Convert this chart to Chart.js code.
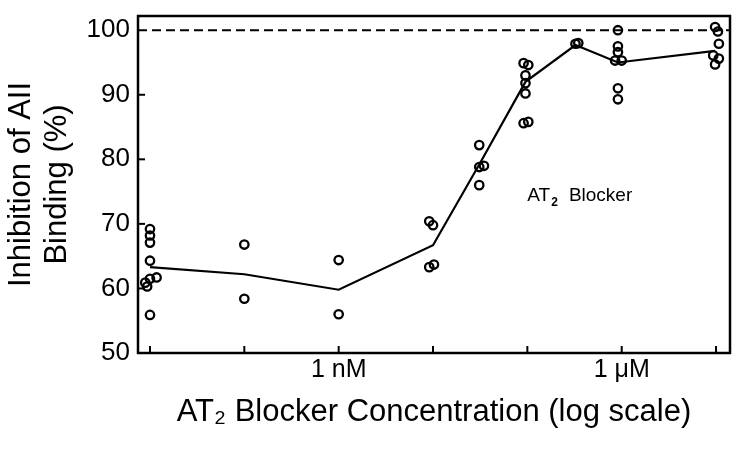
<!DOCTYPE html>
<html>
<head>
<meta charset="utf-8">
<title>AT2 Blocker inhibition</title>
<script src="https://cdn.jsdelivr.net/npm/chart.js@4.4.1/dist/chart.umd.min.js"></script>
<style>
  html, body { margin: 0; padding: 0; background: #fff; }
  #wrap { width: 750px; height: 466px; }
</style>
</head>
<body>
<div id="wrap"><canvas id="bindingChart" width="750" height="466"></canvas></div>
<script>
// x values are log10 of molar concentration
const xTickValues = [-11, -10, -9, -8, -7, -6, -5];
const xTickLabels = ["", "", "1 nM", "", "", "1 \u03bcM", ""];
const yTickValues = [50, 60, 70, 80, 90, 100];

// individual measurements
const pointLogConc = [
  -11.0, -11.0, -11.0, -11.0, -11.0, -10.93, -11.05, -11.03, -11.0,
  -10.0, -10.0,
  -9.0, -9.0,
  -8.04, -8.0, -8.04, -7.99,
  -7.51, -7.51, -7.46, -7.51,
  -7.04, -6.99, -7.02, -7.02, -7.02, -7.04, -6.99,
  -6.49, -6.46,
  -6.04, -6.04, -6.04, -6.07, -6.0, -6.04, -6.04,
  -5.01, -4.98, -4.97, -5.03, -4.97, -5.01
];
const pointInhibition = [
  69.2, 68.2, 67.1, 64.3, 61.5, 61.7, 60.9, 60.3, 55.9,
  66.8, 58.4,
  64.4, 56.0,
  70.4, 69.8, 63.3, 63.7,
  82.2, 78.8, 79.0, 76.0,
  94.9, 94.6, 93.0, 91.8, 90.2, 85.6, 85.8,
  97.9, 98.0,
  100.0, 97.5, 96.6, 95.3, 95.3, 91.0, 89.3,
  100.5, 99.8, 97.9, 96.1, 95.6, 94.7
];

// mean curve
const meanLogConc = [-11.0, -10.0, -9.0, -8.0, -7.51, -7.02, -6.49, -6.04, -5.01];
const meanInhibition = [63.3, 62.2, 59.8, 66.7, 79.2, 92.0, 97.7, 95.0, 96.8];

const referenceLevel = 100;
const labelAt = { x: -7.0, y: 73.5 };

const FONT = "'Liberation Sans', Arial, Helvetica, sans-serif";

const framePlugin = {
  id: "frame",
  beforeDatasetsDraw(chart) {
    const { ctx, chartArea, scales } = chart;
    const y = scales.y.getPixelForValue(referenceLevel);
    ctx.save();
    ctx.strokeStyle = "#000";
    ctx.lineWidth = 2;
    ctx.setLineDash([9, 5]);
    ctx.beginPath();
    ctx.moveTo(chartArea.left, y);
    ctx.lineTo(chartArea.right, y);
    ctx.stroke();
    ctx.restore();
  },
  afterDraw(chart) {
    const { ctx, chartArea, scales } = chart;
    ctx.save();
    ctx.strokeStyle = "#000";
    ctx.lineWidth = 2.5;
    ctx.strokeRect(chartArea.left, chartArea.top,
      chartArea.right - chartArea.left, chartArea.bottom - chartArea.top);

    // inward tick marks
    ctx.lineWidth = 2;
    xTickValues.forEach(v => {
      const px = scales.x.getPixelForValue(v);
      ctx.beginPath();
      ctx.moveTo(px, chartArea.bottom);
      ctx.lineTo(px, chartArea.bottom - 7);
      ctx.stroke();
    });
    yTickValues.forEach(v => {
      if (v === yTickValues[0] || v === referenceLevel) return;
      const py = scales.y.getPixelForValue(v);
      ctx.beginPath();
      ctx.moveTo(chartArea.left, py);
      ctx.lineTo(chartArea.left + 7, py);
      ctx.stroke();
    });

    // "AT2 Blocker" label
    let lx = scales.x.getPixelForValue(labelAt.x);
    const ly = scales.y.getPixelForValue(labelAt.y);
    ctx.fillStyle = "#000";
    ctx.textBaseline = "alphabetic";
    ctx.textAlign = "left";
    ctx.font = "19px " + FONT;
    ctx.fillText("AT", lx, ly);
    lx += ctx.measureText("AT").width + 1;
    ctx.font = "bold 12px " + FONT;
    ctx.fillText("2", lx, ly + 5);
    lx += ctx.measureText("2").width + 11;
    ctx.font = "19px " + FONT;
    ctx.fillText("Blocker", lx, ly);
    ctx.restore();
  }
};

const ctx = document.getElementById("bindingChart").getContext("2d");

new Chart(ctx, {
  type: "scatter",
  data: {
    datasets: [
      {
        label: "Measurements",
        data: pointLogConc.map((x, i) => ({ x: x, y: pointInhibition[i] })),
        showLine: false,
        pointStyle: "circle",
        pointRadius: 4.2,
        pointBorderWidth: 2.3,
        borderColor: "#000",
        backgroundColor: "rgba(0,0,0,0)",
        order: 1
      },
      {
        label: "Mean",
        type: "line",
        data: meanLogConc.map((x, i) => ({ x: x, y: meanInhibition[i] })),
        borderColor: "#000",
        borderWidth: 2.2,
        pointRadius: 0,
        fill: false,
        tension: 0,
        order: 2
      }
    ]
  },
  options: {
    responsive: false,
    animation: false,
    devicePixelRatio: 1,
    layout: { padding: { left: 0, right: 20, top: 16, bottom: 0 } },
    plugins: {
      legend: { display: false },
      tooltip: { enabled: false }
    },
    scales: {
      x: {
        type: "linear",
        min: -11.127,
        max: -4.852,
        grid: { display: false, drawTicks: false },
        border: { display: false },
        afterBuildTicks: scale => {
          scale.ticks = xTickValues.map(v => ({ value: v }));
        },
        afterFit: scale => {
          scale.height = 113;
          scale.paddingLeft = 0;
          scale.paddingRight = 0;
        },
        ticks: {
          autoSkip: false,
          maxRotation: 0,
          padding: 2,
          color: "#000",
          font: { family: FONT, size: 25 },
          callback: (value, index) => xTickLabels[index]
        },
        title: {
          display: true,
          text: "AT\u2082 Blocker Concentration (log scale)",
          color: "#000",
          font: { family: FONT, size: 31 },
          padding: { top: 0, bottom: 35 }
        }
      },
      y: {
        min: 50,
        max: 102.2,
        grid: { display: false, drawTicks: false },
        border: { display: false },
        afterBuildTicks: scale => {
          scale.ticks = yTickValues.map(v => ({ value: v }));
        },
        afterFit: scale => {
          scale.width = 138;
          scale.paddingTop = 0;
          scale.paddingBottom = 0;
        },
        ticks: {
          padding: 8,
          color: "#000",
          font: { family: FONT, size: 26 }
        },
        title: {
          display: true,
          text: ["Inhibition of AII", "Binding (%)"],
          color: "#000",
          font: { family: FONT, size: 31, lineHeight: 1.18 },
          padding: { top: 3, bottom: 0 }
        }
      }
    }
  },
  plugins: [framePlugin]
});
</script>
</body>
</html>
